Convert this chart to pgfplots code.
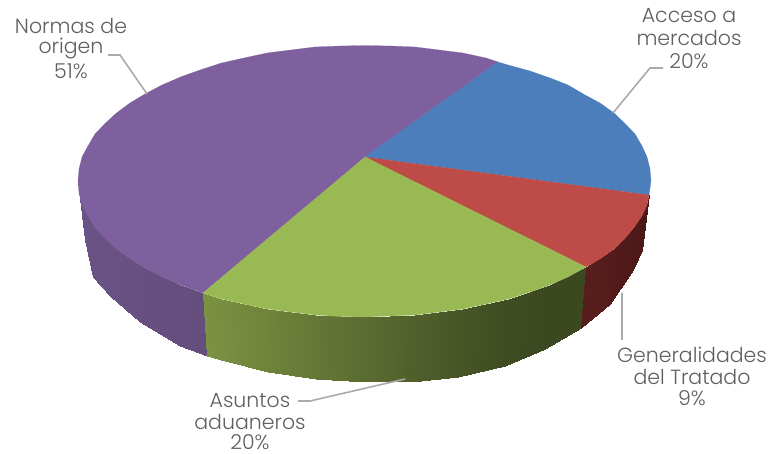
\documentclass[border=0pt]{standalone}
\usepackage{fontspec}
\setmainfont{Poppins Light}
\usepackage{pgfplots}
\pgfplotsset{compat=1.18}
\definecolor{lbl}{RGB}{95,95,95}
\definecolor{ldr}{RGB}{170,170,170}
\definecolor{cpur}{RGB}{127,96,159}
\definecolor{cblu}{RGB}{75,126,187}
\definecolor{cred}{RGB}{189,76,73}
\definecolor{cgrn}{RGB}{153,185,84}
\begin{document}
\begin{tikzpicture}
\path[use as bounding box] (0,0) rectangle (769pt,454pt);
\begin{axis}[at={(0,0)},anchor=south west,scale only axis,width=769pt,height=454pt,
 xmin=0,xmax=769,ymin=0,ymax=454,y dir=reverse,hide axis,clip=false,
 point meta min=0,point meta max=1]
% walls
\addplot[patch,patch type=rectangle,shader=interp,point meta=explicit,
 colormap={w1}{rgb255=(108,84,136) rgb255=(100,78,124)}] coordinates {
 (78,181)[0] (79,190)[0] (85,240)[.2] (82,205)[.2]
 (82,205)[.2] (85,240)[.2] (93,277)[.3] (95,227.5)[.3]
 (95,227.5)[.3] (93,277)[.3] (110,296)[.4] (116.5,249)[.4]
 (116.5,249)[.4] (110,296)[.4] (140,322)[.6] (145,268)[.6]
 (145,268)[.6] (140,322)[.6] (180,346)[.8] (180.5,285)[.8]
 (180.5,285)[.8] (180,346)[.8] (207,356)[1] (203,293)[1]
};
\addplot[patch,patch type=rectangle,shader=interp,point meta=explicit,
 colormap={w2}{rgb255=(124,146,66) rgb255=(60,72,32)}] coordinates {
 (203,293)[0] (207,356)[0] (225,361)[.06] (221.5,299)[.06]
 (221.5,299)[.06] (225,361)[.06] (268,372)[.2] (267,309)[.2]
 (267,309)[.2] (268,372)[.2] (316,379)[.36] (315,315)[.36]
 (315,315)[.36] (316,379)[.36] (365,382)[.52] (365,317)[.52]
 (365,317)[.52] (365,382)[.52] (412,382)[.68] (415,315)[.68]
 (415,315)[.68] (412,382)[.68] (458,377)[.82] (463,309)[.82]
 (463,309)[.82] (458,377)[.82] (505,366)[.95] (508.5,299)[.95]
 (508.5,299)[.95] (505,366)[.95] (545,349)[1] (550,285)[1]
 (550,285)[1] (545,349)[1] (581,328)[1] (586,267)[1]
};
\addplot[patch,patch type=rectangle,shader=interp,point meta=explicit,
 colormap={w3}{rgb255=(88,30,28) rgb255=(76,24,24)}] coordinates {
 (586,267)[0] (581,328)[0] (610,304)[.4] (614,249)[.4]
 (614,249)[.4] (610,304)[.4] (633,270)[.8] (634,227.5)[.8]
 (634,227.5)[.8] (633,270)[.8] (642,250)[1] (647,205)[1]
 (647,205)[1] (642,250)[1] (647,207)[1] (649,195)[1]
};
% top faces
\addplot[fill=cpur,draw=cpur,line width=.2pt] coordinates {
 (365,157) (203,293) (200,292) (180.5,285) (162,277) (145,268) (130,259) (116.5,249) (105,238.5) (95,227.5) (88,216) (82,205) (79,193) (78,181) (79,169) (82,157) (88,146) (95,134) (105,123.5) (116.5,113) (130,103) (145,94) (162,85) (180.5,77) (200,70) (221.5,63) (244,58) (267,53) (291,50) (315,47) (340,46) (365,45.5) (390,46) (415,47) (439,50) (463,53) (486,58) (498,62)
} -- cycle;
\addplot[fill=cblu,draw=cblu,line width=.2pt] coordinates {
 (365,157) (498,62) (508,65) (530,71) (550,78) (568,85) (585,95) (600,103) (614,113) (625,123.5) (635,134) (642,146) (647,157) (650,169) (651,181) (649,195)
} -- cycle;
\addplot[fill=cred,draw=cred,line width=.2pt] coordinates {
 (365,157) (649,195) (647,205) (642,216) (634,227.5) (625,238.5) (614,249) (600,259) (586,267)
} -- cycle;
\addplot[fill=cgrn,draw=cgrn,line width=.2pt] coordinates {
 (365,157) (586,267) (568,277) (550,285) (530,292) (508.5,299) (486,304) (463,309) (439,312) (415,315) (390,316) (365,317) (340,316.5) (315,315) (291,312) (267,309) (244,304) (221.5,299) (203,293)
} -- cycle;
% leaders
\addplot[ldr,line width=1.6pt] coordinates {(108,55) (120,55) (147,94)};
\addplot[ldr,line width=1.6pt] coordinates {(663,68) (650,68) (613,113)};
\addplot[ldr,line width=1.6pt] coordinates {(622,293) (622,340)};
\addplot[ldr,line width=1.6pt] coordinates {(298,401) (310,401) (405,379)};
% labels
\tikzset{l/.style={text=lbl,font=\fontsize{20.5}{22}\selectfont,inner sep=0pt,anchor=center}}
\node[l] at (axis cs:71,26) {Normas de};
\node[l] at (axis cs:71,49) {origen};
\node[l] at (axis cs:71,71) {51\%};
\node[l] at (axis cs:689,16) {Acceso a};
\node[l] at (axis cs:689,38) {mercados};
\node[l] at (axis cs:689,61) {20\%};
\node[l] at (axis cs:692,355) {Generalidades};
\node[l] at (axis cs:692,377) {del Tratado};
\node[l] at (axis cs:692,398) {9\%};
\node[l] at (axis cs:250,401) {Asuntos};
\node[l] at (axis cs:250,422) {aduaneros};
\node[l] at (axis cs:250,442) {20\%};
\end{axis}
\end{tikzpicture}
\end{document}
